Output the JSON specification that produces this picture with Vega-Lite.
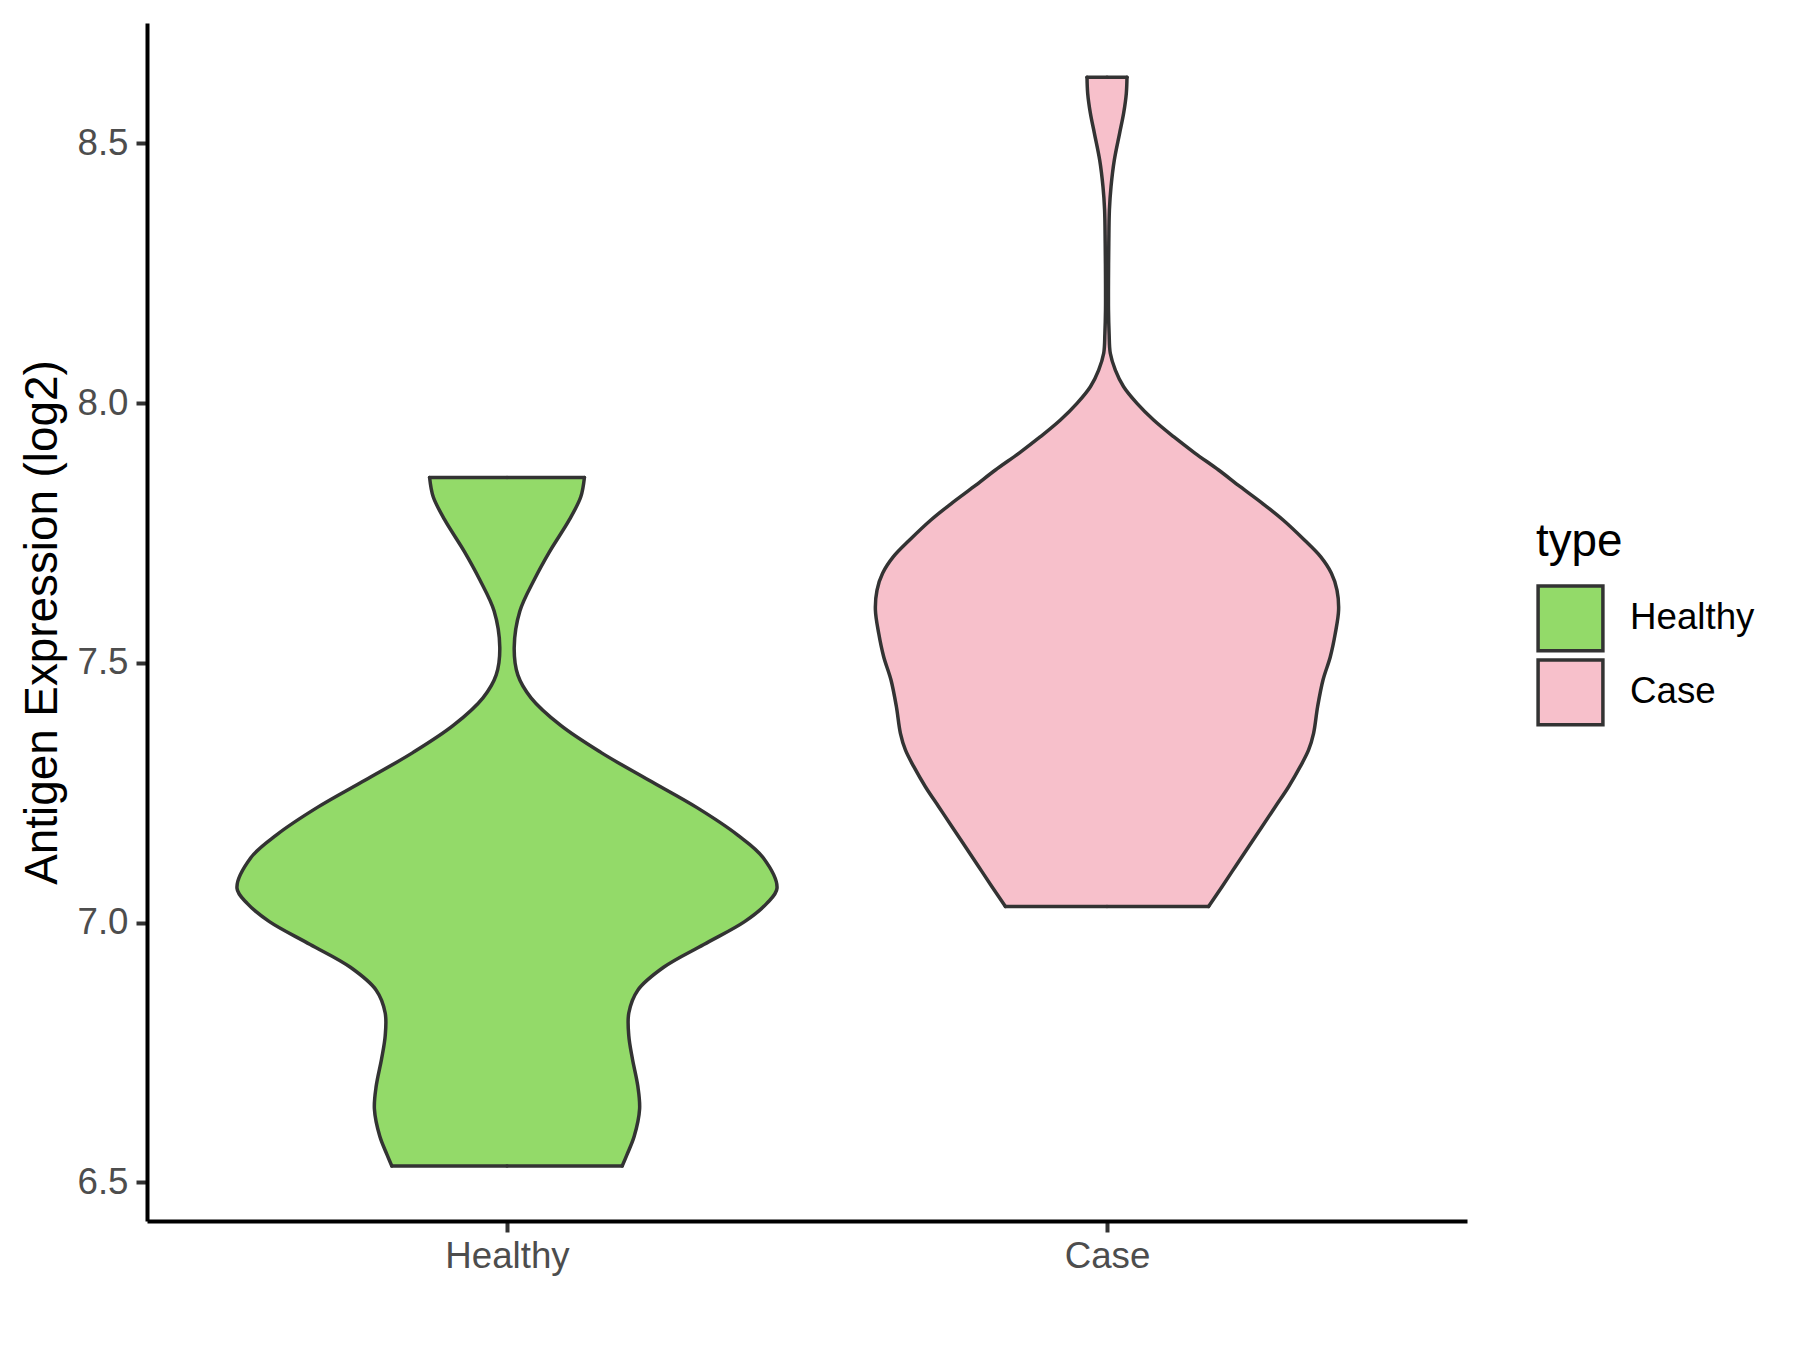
{
  "$schema": "https://vega.github.io/schema/vega-lite/v6.json",
  "width": 1320,
  "height": 1198,
  "autosize": {"type": "none"},
  "padding": {"left": 147, "top": 23, "right": 333, "bottom": 129},
  "background": "white",
  "config": {
    "font": "Liberation Sans",
    "view": {"stroke": null}
  },
  "datasets": {
    "healthy": [
      {"type": "Healthy", "i": 1, "value": 6.5314, "density": 0.192},
      {"type": "Healthy", "i": 2, "value": 6.5533, "density": 0.2},
      {"type": "Healthy", "i": 3, "value": 6.5885, "density": 0.212},
      {"type": "Healthy", "i": 4, "value": 6.6413, "density": 0.221},
      {"type": "Healthy", "i": 5, "value": 6.6852, "density": 0.218},
      {"type": "Healthy", "i": 6, "value": 6.7379, "density": 0.209},
      {"type": "Healthy", "i": 7, "value": 6.782, "density": 0.203},
      {"type": "Healthy", "i": 8, "value": 6.8259, "density": 0.203},
      {"type": "Healthy", "i": 9, "value": 6.8698, "density": 0.218},
      {"type": "Healthy", "i": 10, "value": 6.9139, "density": 0.261},
      {"type": "Healthy", "i": 11, "value": 6.9578, "density": 0.328},
      {"type": "Healthy", "i": 12, "value": 7.0018, "density": 0.396},
      {"type": "Healthy", "i": 13, "value": 7.0369, "density": 0.433},
      {"type": "Healthy", "i": 14, "value": 7.066, "density": 0.45},
      {"type": "Healthy", "i": 15, "value": 7.1248, "density": 0.427},
      {"type": "Healthy", "i": 16, "value": 7.1689, "density": 0.384},
      {"type": "Healthy", "i": 17, "value": 7.2217, "density": 0.316},
      {"type": "Healthy", "i": 18, "value": 7.2744, "density": 0.236},
      {"type": "Healthy", "i": 19, "value": 7.3271, "density": 0.157},
      {"type": "Healthy", "i": 20, "value": 7.3799, "density": 0.089},
      {"type": "Healthy", "i": 21, "value": 7.4326, "density": 0.04},
      {"type": "Healthy", "i": 22, "value": 7.4767, "density": 0.018},
      {"type": "Healthy", "i": 23, "value": 7.5294, "density": 0.012},
      {"type": "Healthy", "i": 24, "value": 7.5997, "density": 0.0215},
      {"type": "Healthy", "i": 25, "value": 7.6613, "density": 0.046},
      {"type": "Healthy", "i": 26, "value": 7.7141, "density": 0.071},
      {"type": "Healthy", "i": 27, "value": 7.7756, "density": 0.104},
      {"type": "Healthy", "i": 28, "value": 7.8196, "density": 0.123},
      {"type": "Healthy", "i": 29, "value": 7.8565, "density": 0.129}
    ],
    "healthy_ends": [
      {"type": "Healthy", "value": 6.5314, "density": 0.192},
      {"type": "Healthy", "value": 7.8565, "density": 0.129}
    ],
    "case": [
      {"type": "Case", "i": 1, "value": 7.031, "density": 0.1693},
      {"type": "Case", "i": 2, "value": 7.069, "density": 0.1917},
      {"type": "Case", "i": 3, "value": 7.1075, "density": 0.2138},
      {"type": "Case", "i": 4, "value": 7.146, "density": 0.236},
      {"type": "Case", "i": 5, "value": 7.1845, "density": 0.2583},
      {"type": "Case", "i": 6, "value": 7.223, "density": 0.2805},
      {"type": "Case", "i": 7, "value": 7.2615, "density": 0.3027},
      {"type": "Case", "i": 8, "value": 7.3, "density": 0.322},
      {"type": "Case", "i": 9, "value": 7.3322, "density": 0.336},
      {"type": "Case", "i": 10, "value": 7.3643, "density": 0.3443},
      {"type": "Case", "i": 11, "value": 7.4155, "density": 0.351},
      {"type": "Case", "i": 12, "value": 7.4669, "density": 0.36},
      {"type": "Case", "i": 13, "value": 7.5117, "density": 0.3722},
      {"type": "Case", "i": 14, "value": 7.5568, "density": 0.3805},
      {"type": "Case", "i": 15, "value": 7.6016, "density": 0.386},
      {"type": "Case", "i": 16, "value": 7.6401, "density": 0.3833},
      {"type": "Case", "i": 17, "value": 7.6723, "density": 0.374},
      {"type": "Case", "i": 18, "value": 7.7043, "density": 0.356},
      {"type": "Case", "i": 19, "value": 7.7364, "density": 0.329},
      {"type": "Case", "i": 20, "value": 7.7749, "density": 0.2935},
      {"type": "Case", "i": 21, "value": 7.807, "density": 0.259},
      {"type": "Case", "i": 22, "value": 7.839, "density": 0.222},
      {"type": "Case", "i": 23, "value": 7.8711, "density": 0.186},
      {"type": "Case", "i": 24, "value": 7.9033, "density": 0.147},
      {"type": "Case", "i": 25, "value": 7.9352, "density": 0.111},
      {"type": "Case", "i": 26, "value": 7.9674, "density": 0.0777},
      {"type": "Case", "i": 27, "value": 7.9995, "density": 0.05},
      {"type": "Case", "i": 28, "value": 8.0315, "density": 0.0277},
      {"type": "Case", "i": 29, "value": 8.0636, "density": 0.0139},
      {"type": "Case", "i": 30, "value": 8.0958, "density": 0.0055},
      {"type": "Case", "i": 31, "value": 8.1343, "density": 0.0035},
      {"type": "Case", "i": 32, "value": 8.1791, "density": 0.0025},
      {"type": "Case", "i": 33, "value": 8.2433, "density": 0.0025},
      {"type": "Case", "i": 34, "value": 8.3075, "density": 0.003},
      {"type": "Case", "i": 35, "value": 8.3716, "density": 0.004},
      {"type": "Case", "i": 36, "value": 8.4165, "density": 0.0067},
      {"type": "Case", "i": 37, "value": 8.4679, "density": 0.0122},
      {"type": "Case", "i": 38, "value": 8.5193, "density": 0.021},
      {"type": "Case", "i": 39, "value": 8.5578, "density": 0.0277},
      {"type": "Case", "i": 40, "value": 8.5963, "density": 0.0322},
      {"type": "Case", "i": 41, "value": 8.627, "density": 0.0333}
    ],
    "case_ends": [
      {"type": "Case", "value": 7.031, "density": 0.1693},
      {"type": "Case", "value": 8.627, "density": 0.0333}
    ]
  },
  "encoding": {
    "y": {
      "field": "value",
      "type": "quantitative",
      "scale": {"domain": [6.4255, 8.7316], "nice": false, "zero": false},
      "axis": {
        "values": [6.5, 7, 7.5, 8, 8.5],
        "format": ".1f",
        "title": "Antigen Expression (log2)",
        "titleFontSize": 45.8,
        "titleFontWeight": "normal",
        "titleColor": "black",
        "titlePadding": 10,
        "labelFontSize": 36.7,
        "labelColor": "#4D4D4D",
        "labelPadding": 8,
        "tickSize": 11,
        "tickWidth": 4,
        "tickColor": "#333333",
        "domainWidth": 4,
        "domainColor": "black",
        "grid": false
      }
    }
  },
  "layer": [
    {
      "data": {"name": "healthy"},
      "mark": {"type": "area", "orient": "horizontal", "interpolate": "catmull-rom", "opacity": 1},
      "encoding": {
        "x": {
          "field": "density", "type": "quantitative", "stack": null,
          "scale": {"domain": [-0.6, 1.6], "nice": false, "zero": false},
          "axis": {
            "values": [0, 1],
            "labelExpr": "datum.value == 0 ? 'Healthy' : 'Case'",
            "title": null,
            "grid": false,
            "domainColor": "black",
            "domainWidth": 4,
            "tickColor": "#333333",
            "tickWidth": 4,
            "tickSize": 11,
            "labelFontSize": 36.7,
            "labelColor": "#4D4D4D",
            "labelPadding": 6
          }
        },
        "x2": {"datum": 0},
        "color": {
          "field": "type", "type": "nominal",
          "scale": {"domain": ["Healthy", "Case"], "range": ["#93DA69", "#F7C0CB"]},
          "legend": {
            "orient": "none", "legendX": 1389, "legendY": 497,
            "title": "type", "titleFontSize": 45.8, "titleFontWeight": "normal", "titleColor": "black",
            "titlePadding": 18,
            "labelFontSize": 36.7, "labelColor": "black", "labelOffset": 25,
            "symbolType": "square", "symbolSize": 4200, "symbolStrokeColor": "#333333",
            "symbolStrokeWidth": 3.5, "symbolOpacity": 1, "rowPadding": -11, "padding": 0
          }
        }
      }
    },
    {
      "data": {"name": "healthy"},
      "mark": {"type": "area", "orient": "horizontal", "interpolate": "catmull-rom", "opacity": 1},
      "encoding": {
        "x": {"field": "density", "type": "quantitative", "stack": null, "scale": {"domain": [-1.6, 0.6], "reverse": true, "nice": false, "zero": false}, "axis": null},
        "x2": {"datum": 0},
        "color": {
          "field": "type", "type": "nominal",
          "scale": {"domain": ["Healthy", "Case"], "range": ["#93DA69", "#F7C0CB"]}
        }
      }
    },
    {
      "data": {"name": "case"},
      "mark": {"type": "area", "orient": "horizontal", "interpolate": "catmull-rom", "opacity": 1},
      "encoding": {
        "x": {"field": "density", "type": "quantitative", "stack": null, "scale": {"domain": [-1.6, 0.6], "nice": false, "zero": false}, "axis": null},
        "x2": {"datum": 0},
        "color": {
          "field": "type", "type": "nominal",
          "scale": {"domain": ["Healthy", "Case"], "range": ["#93DA69", "#F7C0CB"]}
        }
      }
    },
    {
      "data": {"name": "case"},
      "mark": {"type": "area", "orient": "horizontal", "interpolate": "catmull-rom", "opacity": 1},
      "encoding": {
        "x": {"field": "density", "type": "quantitative", "stack": null, "scale": {"domain": [-0.6, 1.6], "reverse": true, "nice": false, "zero": false}, "axis": null},
        "x2": {"datum": 0},
        "color": {
          "field": "type", "type": "nominal",
          "scale": {"domain": ["Healthy", "Case"], "range": ["#93DA69", "#F7C0CB"]}
        }
      }
    },
    {
      "data": {"name": "healthy"},
      "mark": {"type": "line", "interpolate": "catmull-rom", "color": "#333333", "strokeWidth": 3.5, "strokeJoin": "round", "strokeCap": "round"},
      "encoding": {
        "x": {"field": "density", "type": "quantitative", "scale": {"domain": [-0.6, 1.6], "nice": false, "zero": false}, "axis": null},
        "order": {"field": "i", "type": "quantitative"}
      }
    },
    {
      "data": {"name": "healthy"},
      "mark": {"type": "line", "interpolate": "catmull-rom", "color": "#333333", "strokeWidth": 3.5, "strokeJoin": "round", "strokeCap": "round"},
      "encoding": {
        "x": {"field": "density", "type": "quantitative", "scale": {"domain": [-1.6, 0.6], "reverse": true, "nice": false, "zero": false}, "axis": null},
        "order": {"field": "i", "type": "quantitative"}
      }
    },
    {
      "data": {"name": "case"},
      "mark": {"type": "line", "interpolate": "catmull-rom", "color": "#333333", "strokeWidth": 3.5, "strokeJoin": "round", "strokeCap": "round"},
      "encoding": {
        "x": {"field": "density", "type": "quantitative", "scale": {"domain": [-1.6, 0.6], "nice": false, "zero": false}, "axis": null},
        "order": {"field": "i", "type": "quantitative"}
      }
    },
    {
      "data": {"name": "case"},
      "mark": {"type": "line", "interpolate": "catmull-rom", "color": "#333333", "strokeWidth": 3.5, "strokeJoin": "round", "strokeCap": "round"},
      "encoding": {
        "x": {"field": "density", "type": "quantitative", "scale": {"domain": [-0.6, 1.6], "reverse": true, "nice": false, "zero": false}, "axis": null},
        "order": {"field": "i", "type": "quantitative"}
      }
    },
    {
      "data": {"name": "healthy_ends"},
      "mark": {"type": "rule", "color": "#333333", "strokeWidth": 3.5, "strokeCap": "round"},
      "encoding": {
        "x": {"field": "density", "type": "quantitative", "scale": {"domain": [-0.6, 1.6], "nice": false, "zero": false}, "axis": null},
        "x2": {"datum": 0}
      }
    },
    {
      "data": {"name": "healthy_ends"},
      "mark": {"type": "rule", "color": "#333333", "strokeWidth": 3.5, "strokeCap": "round"},
      "encoding": {
        "x": {"field": "density", "type": "quantitative", "scale": {"domain": [-1.6, 0.6], "reverse": true, "nice": false, "zero": false}, "axis": null},
        "x2": {"datum": 0}
      }
    },
    {
      "data": {"name": "case_ends"},
      "mark": {"type": "rule", "color": "#333333", "strokeWidth": 3.5, "strokeCap": "round"},
      "encoding": {
        "x": {"field": "density", "type": "quantitative", "scale": {"domain": [-1.6, 0.6], "nice": false, "zero": false}, "axis": null},
        "x2": {"datum": 0}
      }
    },
    {
      "data": {"name": "case_ends"},
      "mark": {"type": "rule", "color": "#333333", "strokeWidth": 3.5, "strokeCap": "round"},
      "encoding": {
        "x": {"field": "density", "type": "quantitative", "scale": {"domain": [-0.6, 1.6], "reverse": true, "nice": false, "zero": false}, "axis": null},
        "x2": {"datum": 0}
      }
    }
  ],
  "resolve": {"scale": {"x": "independent"}}
}
